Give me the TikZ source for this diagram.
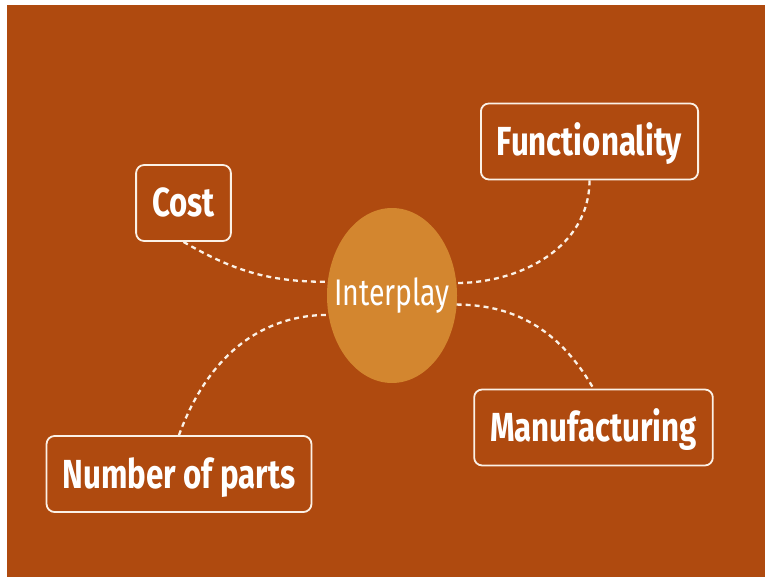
\documentclass[tikz,border=0pt]{standalone}
\usepackage{fontspec}
\setsansfont{Fira Sans}[FakeStretch=0.77]
\usetikzlibrary{shapes.geometric}
\definecolor{rust}{HTML}{AF4A0F}
\definecolor{amber}{HTML}{D3862F}
\definecolor{cream}{HTML}{FBF1E6}

\begin{document}
\begin{tikzpicture}[x=1pt,y=1pt,
		topic/.style={draw=cream, line width=1.8pt, rounded corners=8pt, text=white,
			font=\sffamily\bfseries\fontsize{40.6}{48}\selectfont,
			inner xsep=16pt, inner ysep=0pt, text height=28pt, text depth=0pt, minimum height=76pt},
		hubnode/.style={ellipse, fill=amber, text=white, font=\sffamily\fontsize{37}{44}\selectfont,
			minimum width=130pt, minimum height=175pt, inner sep=0pt, outer sep=0pt},
		link/.style={cream, line width=2.3pt, dash pattern=on 5pt off 4pt}]
		\useasboundingbox (0,0) rectangle (765,576);
		\fill[rust] (7,-6) rectangle (771,571);
		% centre and the four topics
		\node[hubnode] (hub) at (392,280.5) {\makebox[0pt]{\raisebox{3pt}{Interplay}}};
		\node[topic] (cost) at (183.5,373) {Cost};
		\node[topic] (func) at (589.5,434.5) {Functionality};
		\node[topic] (parts) at (179,102) {Number of parts};
		\node[topic] (manu) at (593.5,148.5) {Manufacturing};
		% dashed links
		\draw[link] (cost.south) to[out=-30,in=180] (hub.168);
		\draw[link] (func.south) to[out=-90,in=0] (hub.11);
		\draw[link] (parts.north) to[out=70,in=180] (hub.197);
		\draw[link] (hub.352) to[out=0,in=120] (manu.north);
		\end{tikzpicture}
\end{document}
